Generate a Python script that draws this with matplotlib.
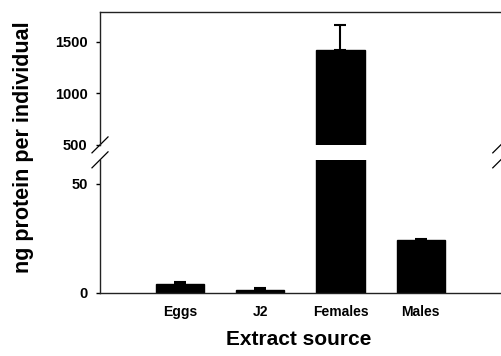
import matplotlib
matplotlib.use('Agg')
import matplotlib.pyplot as plt
import numpy as np

plt.rcParams['font.family'] = ['Liberation Sans', 'DejaVu Sans']
plt.rcParams['font.weight'] = 'bold'

# data
categories = ['Eggs', 'J2', 'Females', 'Males']
means = [4.0, 1.5, 1420, 24.3]
errors = [1.2, 0.6, 245, 0.4]

x = np.arange(1, len(categories) + 1)

fig = plt.figure(figsize=(5.01, 3.56), dpi=100, facecolor='white')
ax_top = fig.add_axes([0.1996, 0.593, 0.80, 0.373])
ax_bot = fig.add_axes([0.1996, 0.177, 0.80, 0.374])

yerr = [np.zeros(len(means)), errors]
for ax in (ax_top, ax_bot):
    ax.bar(x, means, width=0.6, color='black', edgecolor='black',
           yerr=yerr, capsize=4,
           error_kw=dict(ecolor='black', elinewidth=1.5, capthick=1.5))
    ax.set_xlim(0, 5)
    ax.spines['right'].set_visible(False)
    for s in ax.spines.values():
        s.set_linewidth(1.0)
        s.set_color('#222222')
    ax.tick_params(axis='y', direction='out', length=3, width=1,
                   labelsize=10.5, pad=6)

ax_top.set_ylim(500, 1790)
ax_top.set_yticks([500, 1000, 1500])
ax_top.spines['bottom'].set_visible(False)
ax_top.tick_params(axis='x', bottom=False, labelbottom=False)

ax_bot.set_ylim(0, 61)
ax_bot.set_yticks([0, 50])
ax_bot.spines['top'].set_visible(False)
ax_bot.set_xticks(x)
ax_bot.set_xticklabels(categories, fontsize=10, fontweight='bold')
ax_bot.tick_params(axis='x', length=0, pad=9)

# break marks
dx, dy = 0.02, 0.06
kw = dict(color='black', linewidth=0.9, clip_on=False)
for xx in (0, 1):
    ax_top.plot([xx - dx, xx + dx], [-dy, dy], transform=ax_top.transAxes, **kw)
    ax_bot.plot([xx - dx, xx + dx], [1 - dy, 1 + dy], transform=ax_bot.transAxes, **kw)

fig.text(0.047, 0.586, 'ng protein per individual', rotation=90,
         ha='center', va='center', fontsize=15.5, fontweight='bold')
fig.text(0.596, 0.045, 'Extract source', ha='center', va='center',
         fontsize=15, fontweight='bold')

fig.savefig('out.png', dpi=100, facecolor='white')
